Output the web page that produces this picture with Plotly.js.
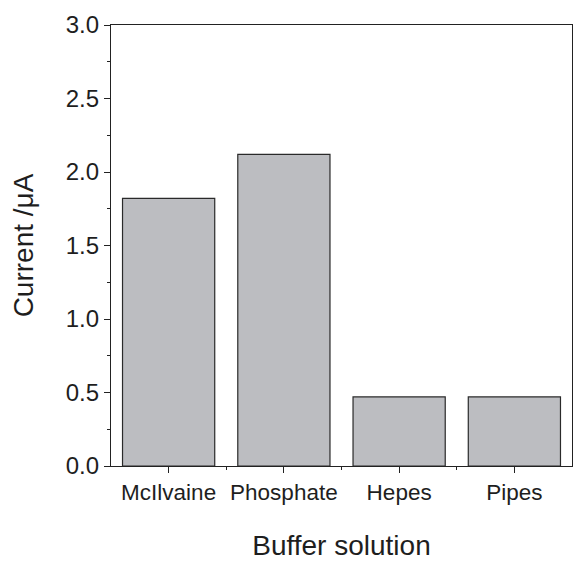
<!DOCTYPE html>
<html>
<head>
<meta charset="utf-8">
<script src="https://cdn.plot.ly/plotly-3.0.1.min.js"></script>
<style>html,body{margin:0;padding:0;background:#fff}#chart{width:573px;height:561px}</style>
</head>
<body>
<div id="chart"></div>
<script>
const categories = ["McIlvaine", "Phosphate", "Hepes", "Pipes"];
const currents = [1.82, 2.12, 0.47, 0.47];
const yTickVals = [0, 0.5, 1.0, 1.5, 2.0, 2.5, 3.0];
const yTickText = ["0.0", "0.5", "1.0", "1.5", "2.0", "2.5", "3.0"];

const xPos = categories.map((c, i) => i);

const trace = {
  type: "bar",
  x: xPos,
  y: currents,
  width: 0.8,
  marker: { color: "#bcbdc1", line: { color: "#2a2a2a", width: 1.2 } },
  hoverinfo: "skip"
};

const fam = "'Liberation Sans', Arial, sans-serif";
const txt = "#1e1e1e";

const layout = {
  width: 573, height: 561,
  margin: { l: 111, r: 1, t: 25, b: 95 },
  paper_bgcolor: "#fff", plot_bgcolor: "#fff",
  showlegend: false,
  font: { family: fam, color: txt },
  xaxis: {
    range: [-0.5, 3.5],
    tickmode: "array", tickvals: xPos, ticktext: categories,
    ticks: "outside", ticklen: 6, tickwidth: 1, tickcolor: "#222",
    minor: { tickmode: "array", tickvals: [0.5, 1.5, 2.5], ticks: "outside", ticklen: 3, tickwidth: 1, tickcolor: "#222" },
    showline: true, linecolor: "#222", linewidth: 1.2, mirror: true,
    showgrid: false, zeroline: false,
    tickfont: { size: 22.5, family: fam, color: txt },
    title: { text: "Buffer solution", font: { size: 28, family: fam, color: txt }, standoff: 32 }
  },
  yaxis: {
    range: [0, 3.0],
    tickmode: "array", tickvals: yTickVals, ticktext: yTickText,
    ticks: "outside", ticklen: 6, tickwidth: 1, tickcolor: "#222",
    minor: { tickmode: "array", tickvals: [0.25, 0.75, 1.25, 1.75, 2.25, 2.75], ticks: "outside", ticklen: 3, tickwidth: 1, tickcolor: "#222" },
    showline: true, linecolor: "#222", linewidth: 1.2, mirror: true,
    showgrid: false, zeroline: false,
    tickfont: { size: 24, family: fam, color: txt },
    title: { text: "Current /μA", font: { size: 28, family: fam, color: txt }, standoff: 23 }
  }
};

Plotly.newPlot("chart", [trace], layout, { displayModeBar: false, staticPlot: true });
</script>
</body>
</html>
